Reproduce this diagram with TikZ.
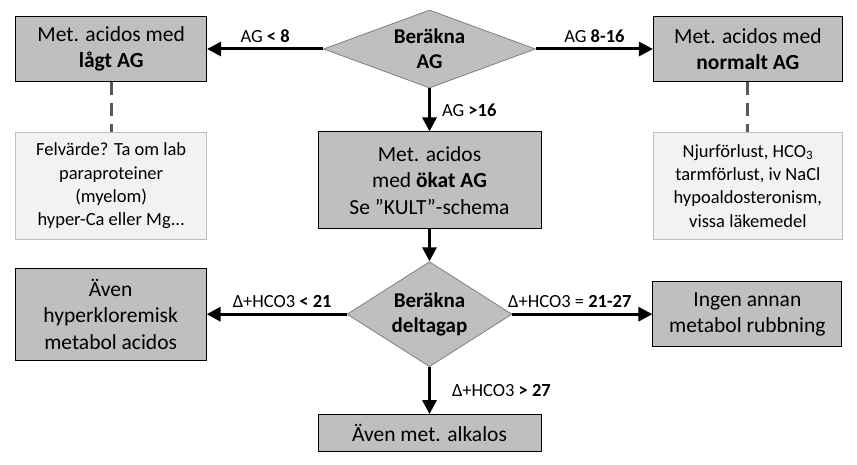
\documentclass[tikz,border=0pt]{standalone}
\usepackage{fontspec}
\setmainfont{Carlito}
\usepackage{tikz}
\usetikzlibrary{shapes.geometric,arrows.meta,positioning}
\usepackage{xcolor}
\definecolor{boxgrey}{HTML}{BFBFBF}
\definecolor{notegrey}{HTML}{F2F2F2}
\definecolor{noteline}{HTML}{BFBFBF}
\definecolor{dashgrey}{HTML}{595959}
\definecolor{diagrey}{HTML}{7F7F7F}

\begin{document}
\begin{tikzpicture}[
    resbox/.style={rectangle, draw=black, line width=0.9pt, fill=boxgrey,
        align=center, inner sep=0pt, font=\fontsize{21.5}{26.5}\selectfont},
    notebox/.style={rectangle, draw=noteline, line width=0.9pt, fill=notegrey,
        align=center, inner sep=0pt, font=\fontsize{18.5}{23.3}\selectfont},
    calc/.style={diamond, draw=diagrey, line width=0.8pt, fill=boxgrey,
        align=center, inner sep=0pt, font=\fontsize{21}{25}\selectfont\bfseries},
    arr/.style={-{Triangle[length=14pt, width=14pt]}, line width=3pt},
    darr/.style={dashgrey, line width=3pt, dash pattern=on 13pt off 8pt},
    lbl/.style={font=\fontsize{18.5}{22}\selectfont, inner sep=2pt}
]
    \useasboundingbox (0,0) rectangle (857pt,-465pt);

    % Anion gap decision
    \node[calc, aspect=2.7, minimum width=212pt, minimum height=78pt]
        (calcAG) at (429.5pt,-49pt) {Beräkna\\AG};
    \node[resbox, minimum width=191pt, minimum height=65pt, left=116pt of calcAG]
        (lowAG) {Met. acidos med\\\textbf{lågt AG}};
    \node[resbox, minimum width=189pt, minimum height=65pt, right=117pt of calcAG]
        (normAG) {Met. acidos med\\\textbf{normalt AG}};
    \node[resbox, minimum width=223pt, minimum height=97pt, below=43pt of calcAG]
        (highAG) {Met. acidos\\med \textbf{ökat AG}\\Se ”KULT”-schema};

    \draw[arr] (calcAG.west) -- (lowAG.east)
        node[lbl, midway, above=3pt] {AG \textbf{< 8}};
    \draw[arr] (calcAG.east) -- (normAG.west)
        node[lbl, midway, above=3pt] {AG \textbf{8-16}};
    \draw[arr] (calcAG.south) -- (highAG.north)
        node[lbl, midway, right=9pt] {AG \textbf{>16}};

    % Causes
    \node[notebox, minimum width=191pt, minimum height=107pt, below=50pt of lowAG]
        (lowNote) {Felvärde? Ta om lab\\paraproteiner\\(myelom)\\hyper-Ca eller Mg...};
    \node[notebox, minimum width=189pt, minimum height=107pt, below=50pt of normAG]
        (normNote) {Njurförlust, HCO\textsubscript{3}\\tarmförlust, iv NaCl\\hypoaldosteronism,\\vissa läkemedel};

    \draw[darr] (lowAG) -- (lowNote);
    \draw[darr] (normAG) -- (normNote);

    % Delta gap decision
    \node[calc, aspect=1.57, minimum width=165pt, minimum height=105pt, below=32pt of highAG]
        (calcDelta) {Beräkna\\deltagap};
    \node[resbox, minimum width=191pt, minimum height=92pt, left=140pt of calcDelta]
        (hyperCl) {Även\\hyperkloremisk\\metabol acidos};
    \node[resbox, minimum width=189pt, minimum height=65pt, right=140pt of calcDelta]
        (noOther) {Ingen annan\\metabol rubbning};
    \node[resbox, minimum width=223pt, minimum height=37pt, below=47pt of calcDelta]
        (alkalos) {Även met. alkalos};

    \draw[arr] (highAG.south) -- (calcDelta.north);
    \draw[arr] (calcDelta.west) -- (hyperCl.east)
        node[lbl, pos=0.46, above=3pt] {Δ+HCO3 \textbf{< 21}};
    \draw[arr] (calcDelta.east) -- (noOther.west)
        node[lbl, pos=0.41, above=3pt] {Δ+HCO3 = \textbf{21-27}};
    \draw[arr] (calcDelta.south) -- (alkalos.north)
        node[lbl, midway, right=19pt] {Δ+HCO3 \textbf{> 27}};
\end{tikzpicture}
\end{document}
